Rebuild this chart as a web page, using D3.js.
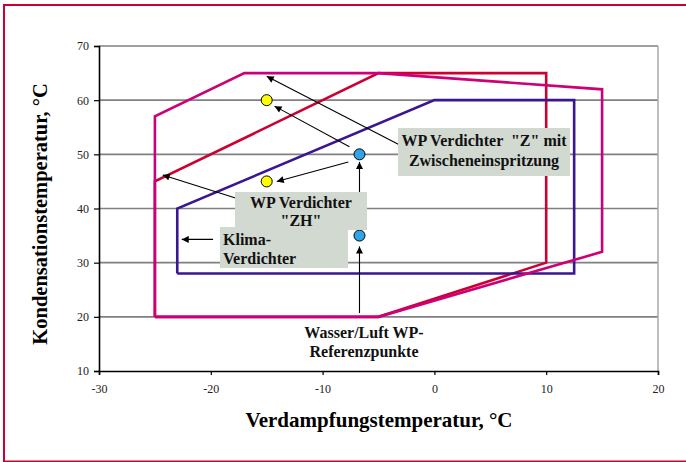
<!DOCTYPE html>
<html>
<head>
<meta charset="utf-8">
<script src="https://cdn.jsdelivr.net/npm/d3@7"></script>
<style>
  body { margin: 0; background: #fff; }
  svg { display: block; }
  svg text { font-family: "Liberation Serif", "DejaVu Serif", serif; white-space: pre; }
</style>
</head>
<body>
<svg id="chart" width="686" height="462"></svg>
<script>
// axis ticks
const xTicks = [-30, -20, -10, 0, 10, 20];
const yTicks = [10, 20, 30, 40, 50, 60, 70];

// operating envelopes [Verdampfung, Kondensation]
const envRed = [[-25, 20], [-25, 45], [-5, 65], [10, 65], [10, 30], [-5, 20], [-25, 20]];
const envPurple = [[-23, 28], [-23, 40], [0, 60], [12.5, 60], [12.5, 28], [-23, 28]];
const envMagenta = [[-25, 20], [-25, 57], [-17, 65], [-5, 65], [15, 62], [15, 32], [-5, 20], [-25, 20]];

// points
const yellowPts = [[-15, 60], [-15, 45]];
const bluePts = [[-6.7, 50], [-6.7, 35]];

// annotation arrows: [from, to] in data units
const arrows = [
  [[-2.8, 51.4], [-15, 64.4]],
  [[-7.6, 51.4], [-14.3, 58.9]],
  [[-7.7, 48.6], [-14.1, 45.0]],
  [[-16.8, 41.3], [-24.3, 46.2]],
  [[-19.8, 34.3], [-22.6, 34.3]],
  [[-6.7, 36.6], [-6.7, 48.6]],
  [[-6.7, 20.7], [-6.7, 33.0]]
];

const serif = '"Liberation Serif", "DejaVu Serif", serif';
const svg = d3.select("#chart");

// outer frame
svg.append("rect")
  .attr("x", 4).attr("y", 5).attr("width", 700).attr("height", 456.5)
  .attr("fill", "none").attr("stroke", "#cc0033").attr("stroke-width", 2);

const x = d3.scaleLinear().domain([-30, 20]).range([99, 658]);
const y = d3.scaleLinear().domain([10, 70]).range([371, 46]);

// grid
svg.append("g").selectAll("line")
  .data(yTicks.filter(d => d > 10))
  .enter().append("line")
    .attr("x1", x(-30)).attr("x2", x(20))
    .attr("y1", d => y(d)).attr("y2", d => y(d))
    .attr("stroke", "#808080").attr("stroke-width", 1.6);

svg.append("line")
  .attr("x1", x(20)).attr("x2", x(20)).attr("y1", y(70)).attr("y2", y(10))
  .attr("stroke", "#a8a8a8").attr("stroke-width", 1.5);

// axes
const xAxis = svg.append("g")
  .attr("transform", `translate(0,${y(10)})`)
  .call(d3.axisBottom(x).tickValues(xTicks).tickFormat(d => String(d)).tickSize(4).tickPadding(9));
const yAxis = svg.append("g")
  .attr("transform", `translate(${x(-30)},0)`)
  .call(d3.axisLeft(y).tickValues(yTicks).tickFormat(d => String(d)).tickSize(5).tickPadding(5));
[xAxis, yAxis].forEach(a => {
  a.attr("font-family", serif);
  a.select(".domain").attr("stroke", "#000").attr("stroke-width", 1.6);
  a.selectAll(".tick line").attr("stroke", "#000").attr("stroke-width", 1.2);
  a.selectAll("text").attr("font-family", serif).attr("font-size", 12).attr("fill", "#222");
});

// envelopes
const line = d3.line().x(d => x(d[0])).y(d => y(d[1]));
[[envRed, "#cc0033"], [envPurple, "#3a1690"], [envMagenta, "#cc0077"]].forEach(([pts, col]) => {
  svg.append("path").attr("d", line(pts))
    .attr("fill", "none").attr("stroke", col).attr("stroke-width", 2.6)
    .attr("stroke-linejoin", "miter");
});

// arrow marker
svg.append("defs").append("marker")
  .attr("id", "head").attr("viewBox", "0 0 10 10")
  .attr("refX", 10).attr("refY", 5)
  .attr("markerWidth", 9).attr("markerHeight", 7)
  .attr("markerUnits", "userSpaceOnUse")
  .attr("orient", "auto")
  .append("path").attr("d", "M0,0L10,5L0,10Z").attr("fill", "#000");

// label boxes
const boxes = [
  {x: 398, y: 128, w: 172, h: 48, lines: ['WP Verdichter  "Z" mit', 'Zwischeneinspritzung'], anchor: "middle", tx: 484, ty: [146, 166]},
  {x: 235, y: 192, w: 132, h: 38, lines: ['WP Verdichter', '"ZH"'], anchor: "middle", tx: 301, ty: [208, 226]},
  {x: 220, y: 227, w: 128, h: 41, lines: ['Klima-', 'Verdichter'], anchor: "start", tx: 223, ty: [245, 264]},
  {x: 0, y: 0, w: 0, h: 0, lines: ['Wasser/Luft WP-', 'Referenzpunkte'], anchor: "middle", tx: 364, ty: [338, 357]}
];

// arrows
svg.append("g").selectAll("line")
  .data(arrows)
  .enter().append("line")
    .attr("x1", d => x(d[0][0])).attr("y1", d => y(d[0][1]))
    .attr("x2", d => x(d[1][0])).attr("y2", d => y(d[1][1]))
    .attr("stroke", "#000").attr("stroke-width", 1.1)
    .attr("marker-end", "url(#head)");

// points
svg.append("g").selectAll("circle")
  .data(yellowPts).enter().append("circle")
    .attr("cx", d => x(d[0])).attr("cy", d => y(d[1])).attr("r", 5.5)
    .attr("fill", "#ffff00").attr("stroke", "#000").attr("stroke-width", 1);
svg.append("g").selectAll("circle")
  .data(bluePts).enter().append("circle")
    .attr("cx", d => x(d[0])).attr("cy", d => y(d[1])).attr("r", 5.5)
    .attr("fill", "#33a3e8").attr("stroke", "#000").attr("stroke-width", 1);

boxes.forEach(b => {
  if (b.w) svg.append("rect").attr("x", b.x).attr("y", b.y).attr("width", b.w).attr("height", b.h).attr("fill", "#d2d9d1");
  b.lines.forEach((t, i) => {
    svg.append("text").attr("x", b.tx).attr("y", b.ty[i])
      .attr("text-anchor", b.anchor).attr("font-family", serif).attr("font-weight", "bold").attr("font-size", 16)
      .attr("fill", "#111").text(t);
  });
});

// axis titles
svg.append("text").attr("x", 379).attr("y", 427).attr("text-anchor", "middle").attr("font-family", serif)
  .attr("font-weight", "bold").attr("font-size", 21).text("Verdampfungstemperatur, °C");
svg.append("text").attr("transform", "translate(47,214) rotate(-90)").attr("text-anchor", "middle").attr("font-family", serif)
  .attr("font-weight", "bold").attr("font-size", 20.5).text("Kondensationstemperatur, °C");
</script>
</body>
</html>
